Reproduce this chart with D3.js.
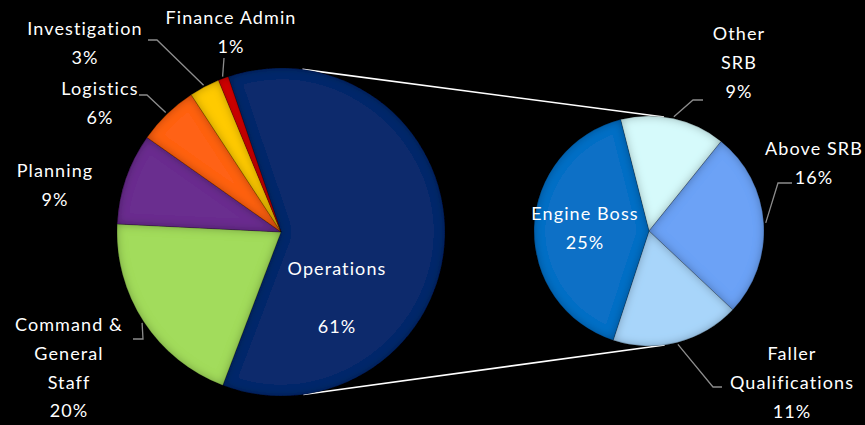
<!DOCTYPE html>
<html>
<head>
<meta charset="utf-8">
<script src="https://cdn.jsdelivr.net/npm/d3@7"></script>
<style>
  body { margin: 0; background: #000; }
  svg { display: block; }
  .label { fill: #fff; font-family: Lato, 'Open Sans', sans-serif; font-size: 18px; letter-spacing: 1.1px; }
  .leader { fill: none; stroke: #8c8c8c; stroke-width: 1.3; }
  .series-line { stroke: #fff; stroke-width: 1.6; }
</style>
</head>
<body>
<svg id="chart" width="865" height="425"></svg>
<script>
// main pie
const mainNames = ['Operations', 'Command & General Staff', 'Planning', 'Logistics', 'Investigation', 'Finance Admin']
const mainValues = [61, 20, 9, 6, 3, 1]
const mainLines = [['Operations', ''], ['Command &', 'General', 'Staff'], ['Planning'], ['Logistics'], ['Investigation'], ['Finance Admin']]
const mainColors = ['#0a2a6c', '#a2dc5c', '#6b2e8f', '#ff6212', '#ffca00', '#e0100e']

// secondary pie (breakdown of Operations)
const subNames = ['Other SRB', 'Above SRB', 'Faller Qualifications', 'Engine Boss']
const subValues = [9, 16, 11, 25]
const subLines = [['Other', 'SRB'], ['Above SRB'], ['Faller', 'Qualifications'], ['Engine Boss']]
const subColors = ['#d6fafb', '#6ca2f6', '#a8d5fa', '#0a70c6']

// label placement: [centerX, firstBaseline, leader path from label side or null]
const mainLabelPos = [
  [337, 275, null],
  [69, 331, [[133, 339], [143, 339]]],
  [55, 177, null],
  [100, 95, [[139, 95], [147, 95]]],
  [85, 35, [[148, 40], [157, 40]]],
  [231, 24, [[224, 58]]]
]
const subLabelPos = [
  [739, 40, [[703, 100], [693, 100]]],
  [814, 155, [[792, 183], [778, 183]]],
  [792, 360, [[722, 387], [713, 387]]],
  [585, 220, null]
]

const W = 865
const H = 425
const lineH = 28.8
const rad = (deg) => deg * Math.PI / 180

let svg = d3.select('#chart')
svg.append('rect').attr('width', W).attr('height', H).attr('fill', '#000')

// inner-rim shading, a rough stand-in for the bevel
let defs = svg.append('defs')
let f = defs.append('filter').attr('id', 'bevel')
  .attr('x', '-10%').attr('y', '-10%').attr('width', '120%').attr('height', '120%')
f.append('feGaussianBlur').attr('in', 'SourceAlpha').attr('stdDeviation', 5).attr('result', 'blur')
f.append('feComposite').attr('in', 'SourceAlpha').attr('in2', 'blur')
  .attr('operator', 'arithmetic').attr('k2', 1).attr('k3', -1).attr('result', 'rim')
f.append('feFlood').attr('flood-color', '#000').attr('flood-opacity', 0.6).attr('result', 'dark')
f.append('feComposite').attr('in', 'dark').attr('in2', 'rim').attr('operator', 'in').attr('result', 'shade')
let merge = f.append('feMerge')
merge.append('feMergeNode').attr('in', 'SourceGraphic')
merge.append('feMergeNode').attr('in', 'shade')

let main = {cx: 281, cy: 232, r: 164}
let sub = {cx: 649, cy: 231, r: 115}

// Operations slice sits on the right-hand side, Excel style
let mainStart = rad(-18.8)
let mainPie = d3.pie().sort(null).value((d) => d)
  .startAngle(mainStart).endAngle(mainStart + 2 * Math.PI)
let subStart = rad(-14.3)
let subPie = d3.pie().sort(null).value((d) => d)
  .startAngle(subStart).endAngle(subStart + 2 * Math.PI)

// series lines: outer tangents between the two pies
function drawSeriesLines () {
  let dx = sub.cx - main.cx
  let dy = sub.cy - main.cy
  let d = Math.hypot(dx, dy)
  let ux = dx / d
  let uy = dy / d
  let s = (main.r - sub.r) / d
  let c = Math.sqrt(1 - s * s)
  let lines = [[uy, -ux], [-uy, ux]].map(([px, py]) => {
    let nx = px * c + ux * s
    let ny = py * c + uy * s
    return [main.cx + main.r * nx, main.cy + main.r * ny, sub.cx + sub.r * nx, sub.cy + sub.r * ny]
  })
  svg.selectAll('.series-line')
    .data(lines)
    .enter()
    .append('line')
    .attr('class', 'series-line')
    .attr('x1', (l) => l[0]).attr('y1', (l) => l[1])
    .attr('x2', (l) => l[2]).attr('y2', (l) => l[3])
}
drawSeriesLines()

function drawPie (geo, pie, values, colors, lines, pos, cls) {
  let g = svg.append('g')
    .attr('class', cls)
    .attr('transform', `translate(${geo.cx},${geo.cy})`)
  let arcs = pie(values)
  let arc = d3.arc().innerRadius(0).outerRadius(geo.r)
  let outer = d3.arc().innerRadius(geo.r + 2).outerRadius(geo.r + 2)

  g.selectAll('path.slice')
    .data(arcs)
    .enter()
    .append('path')
    .attr('class', 'slice')
    .attr('d', arc)
    .attr('fill', (d, i) => colors[i])
    .attr('stroke', 'rgba(0,0,0,0.3)')
    .attr('stroke-width', 0.7)
    .attr('filter', 'url(#bevel)')

  // leader lines
  arcs.forEach((d, i) => {
    let lead = pos[i][2]
    if (!lead) {
      return
    }
    let p = outer.centroid(d)
    let pts = lead.concat([[geo.cx + p[0], geo.cy + p[1]]])
    svg.append('path')
      .attr('class', 'leader')
      .attr('d', d3.line()(pts))
  })

  // labels
  arcs.forEach((d, i) => {
    let [x, y] = pos[i]
    let txt = lines[i].concat([`${values[i]}%`])
    let t = svg.append('text')
      .attr('class', 'label')
      .attr('text-anchor', 'middle')
    txt.forEach((s, k) => {
      t.append('tspan')
        .attr('x', x)
        .attr('y', y + k * lineH)
        .text(s)
    })
  })
}

drawPie(main, mainPie, mainValues, mainColors, mainLines, mainLabelPos, 'main-pie')
drawPie(sub, subPie, subValues, subColors, subLines, subLabelPos, 'sub-pie')
</script>
</body>
</html>
